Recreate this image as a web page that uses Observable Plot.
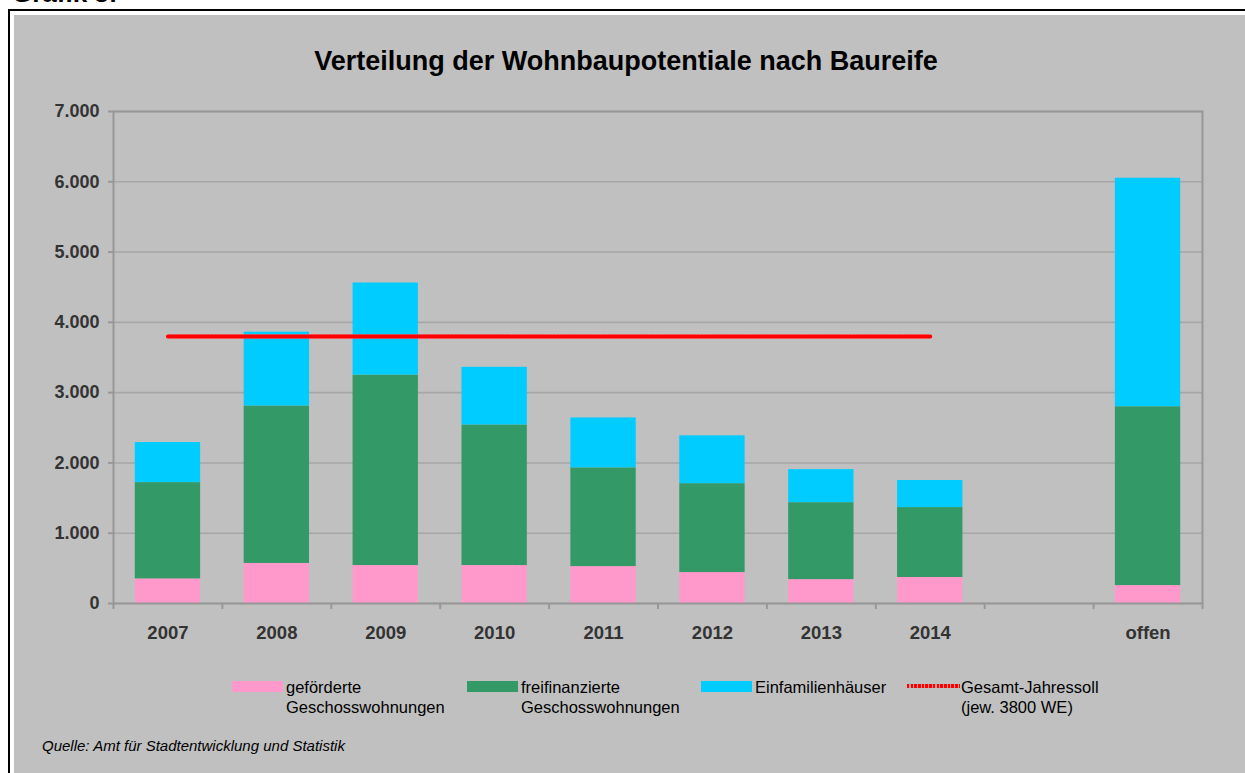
<!DOCTYPE html>
<html>
<head>
<meta charset="utf-8">
<script src="https://cdn.jsdelivr.net/npm/d3@7"></script>
<script src="https://cdn.jsdelivr.net/npm/@observablehq/plot@0.6"></script>
<style>
  html, body { margin: 0; padding: 0; background: #fff; width: 1245px; height: 773px; overflow: hidden; position: relative; font-family: "Liberation Sans", Arial, sans-serif; }
  .abs { position: absolute; line-height: 1; white-space: nowrap; }
  #frame { position: absolute; left: 8px; top: 9px; width: 1260px; height: 800px; border: 2px solid #000; box-sizing: border-box; }
  #panel { position: absolute; left: 14px; top: 15px; width: 1260px; height: 800px; background: #c0c0c0; }
  #chart { position: absolute; left: 0; top: 90px; }
  .sw { position: absolute; }
</style>
</head>
<body>
<div class="abs" style="left:12px; top:-20px; font-size:26px; font-weight:bold; color:#000;">Grafik 3:</div>
<div id="frame"></div>
<div id="panel"></div>
<div class="abs" id="title" style="left:0; width:1252px; text-align:center; top:48px; font-size:27px; font-weight:bold; color:#000;">Verteilung der Wohnbaupotentiale nach Baureife</div>
<div id="chart"></div>
<div id="legend"></div>
<div class="abs" style="left:42px; top:738px; font-size:15px; font-style:italic; color:#000;">Quelle: Amt für Stadtentwicklung und Statistik</div>
<script>
// ---- data ----
const categories = ["2007", "2008", "2009", "2010", "2011", "2012", "2013", "2014", "", "offen"];
const seriesNames = ["geförderte Geschosswohnungen", "freifinanzierte Geschosswohnungen", "Einfamilienhäuser"];
const gefoerdert     = [350, 570, 540, 540, 525, 440, 340, 370, null, 255];
const freifinanziert = [1370, 2240, 2710, 2000, 1405, 1265, 1095, 995, null, 2545];
const einfamilien    = [570, 1050, 1310, 820, 710, 680, 470, 385, null, 3250];
const sollYears = ["2007", "2008", "2009", "2010", "2011", "2012", "2013", "2014"];
const sollValues = [3800, 3800, 3800, 3800, 3800, 3800, 3800, 3800];
const yTicks = [0, 1000, 2000, 3000, 4000, 5000, 6000, 7000];
const colors = ["#ff99cc", "#339966", "#00ccff"];
const sollLabel = ["Gesamt-Jahressoll", "(jew. 3800 WE)"];

// ---- table ----
const seriesArrays = [gefoerdert, freifinanziert, einfamilien];
const rows = [];
categories.forEach((c, i) => {
  seriesArrays.forEach((arr, s) => {
    if (arr[i] != null) rows.push({cat: c, series: seriesNames[s], value: arr[i]});
  });
});
const soll = sollYears.map((y, i) => ({cat: y, value: sollValues[i]}));

const fmt = d3.formatLocale({decimal: ",", thousands: ".", grouping: [3], currency: ["", ""]}).format(",.0f");

const W = 1245, H = 560, ML = 113, MR = 43, MT = 21, MB = 47;
const step = (W - ML - MR) / categories.length;
const axisGray = "#979797";

const chart = Plot.plot({
  width: W, height: H,
  marginLeft: ML, marginRight: MR, marginTop: MT, marginBottom: MB,
  style: {background: "transparent", fontFamily: "'Liberation Sans', Arial, sans-serif", overflow: "visible"},
  x: {domain: categories, paddingInner: 0.4, paddingOuter: 0.2, round: false, label: null},
  y: {domain: [0, 7000], label: null},
  color: {domain: seriesNames, range: colors},
  marks: [
    Plot.gridY(yTicks, {stroke: "#a6a6a6", strokeOpacity: 1, strokeWidth: 1.6}),
    Plot.barY(rows, {x: "cat", y: "value", fill: "series"}),
    Plot.lineY(soll, {x: "cat", y: "value", stroke: "#ff9a9a", strokeWidth: 4}),
    Plot.lineY(soll, {x: "cat", y: "value", stroke: "#ff0000", strokeWidth: 4, strokeDasharray: "2.5,1.2"}),
    Plot.frame({stroke: axisGray, strokeWidth: 2}),
    Plot.axisY(yTicks, {tickSize: 5, tickPadding: 9, tickFormat: fmt, fontSize: 18, fontWeight: "bold", fill: "#333", stroke: axisGray, strokeWidth: 2}),
    Plot.axisX({tickSize: 0, tickPadding: 22, fontSize: 18.5, fontWeight: "bold", fill: "#333"}),
    Plot.axisX({tickSize: 6, tickFormat: () => "", dx: -step / 2, stroke: axisGray, strokeWidth: 2}),
    Plot.axisX([categories[categories.length - 1]], {tickSize: 6, tickFormat: () => "", dx: step / 2, stroke: axisGray, strokeWidth: 2})
  ]
});
document.getElementById("chart").appendChild(chart);

// ---- legend ----
const legend = document.getElementById("legend");
const legendItems = [
  {lines: ["geförderte", "Geschosswohnungen"], color: colors[0], x: 232, type: "box"},
  {lines: ["freifinanzierte", "Geschosswohnungen"], color: colors[1], x: 467, type: "box"},
  {lines: ["Einfamilienhäuser"], color: colors[2], x: 701, type: "box"},
  {lines: sollLabel, color: "#ff0000", x: 907, type: "line"}
];
legendItems.forEach(it => {
  const sw = document.createElement("div");
  sw.className = "sw";
  if (it.type === "box") {
    sw.style.cssText = `left:${it.x}px; top:681px; width:51px; height:11px; background:${it.color};`;
  } else {
    sw.style.cssText = `left:${it.x}px; top:684px; width:53px; height:4px; background: repeating-linear-gradient(90deg, #ff0000 0 2.5px, #ff9a9a 2.5px 3.7px);`;
  }
  legend.appendChild(sw);
  const tx = document.createElement("div");
  tx.className = "abs";
  tx.style.cssText = `left:${it.x + 54}px; top:677px; font-size:16.5px; line-height:20px; color:#000;`;
  tx.innerHTML = it.lines.join("<br>");
  legend.appendChild(tx);
});
</script>
</body>
</html>
